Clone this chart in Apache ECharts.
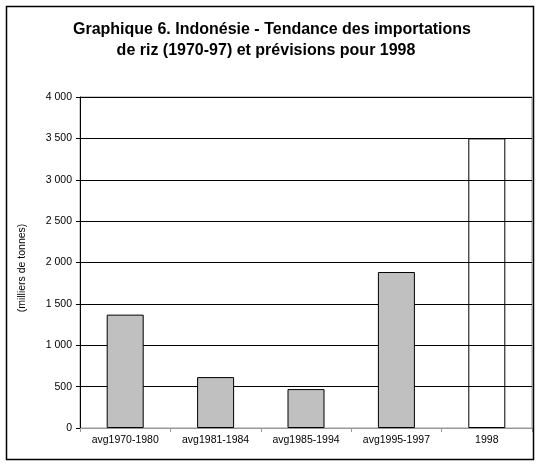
<!DOCTYPE html>
<html>
<head>
<meta charset="utf-8">
<script src="https://cdn.jsdelivr.net/npm/echarts@6/dist/echarts.min.js"></script>
<style>
html,body{margin:0;padding:0;background:#fff;}
#c{width:541px;height:467px;}
</style>
</head>
<body>
<div id="c"></div>
<script>
var categories = ['avg1970-1980', 'avg1981-1984', 'avg1985-1994', 'avg1995-1997', '1998'];
var imports = [1370, 615, 470, 1885, 3500];
var yTicks = [0, 500, 1000, 1500, 2000, 2500, 3000, 3500, 4000];
var titleLines = ['Graphique 6. Indonésie - Tendance des importations', 'de riz (1970-97) et prévisions pour 1998'];
var yAxisName = '(milliers de tonnes)';

var chart = echarts.init(document.getElementById('c'), null, {renderer: 'canvas'});
var FONT = 'Arial, "Liberation Sans", sans-serif';
var SMALL = 10.5;
var last = imports.length - 1;

function fmt(v) {
  return String(v).replace(/\B(?=(\d{3})+(?!\d))/g, ' ');
}

var histData = imports.map(function (v, i) { return i === last ? '-' : v; });
var forecastData = imports.map(function (v, i) { return i === last ? v : '-'; });

var option = {
  backgroundColor: '#fff',
  animation: false,
  title: [{
    text: titleLines[0],
    left: 267, top: 17, textAlign: 'center',
    textStyle: {fontFamily: FONT, fontSize: 16, fontWeight: 'bold', color: '#000'}
  }, {
    text: titleLines[1],
    left: 261, top: 38, textAlign: 'center',
    textStyle: {fontFamily: FONT, fontSize: 16, fontWeight: 'bold', color: '#000'}
  }],
  graphic: [{
    type: 'rect',
    shape: {x: 6.5, y: 6.5, width: 527, height: 453},
    style: {fill: 'none', stroke: '#000', lineWidth: 1.5},
    silent: true, z: 100
  }, {
    type: 'text',
    x: 22, y: 268,
    rotation: Math.PI / 2,
    style: {text: yAxisName, fontFamily: FONT, fontSize: SMALL, fill: '#000',
      align: 'center', verticalAlign: 'middle'}
  }],
  grid: {left: 80, right: 9, top: 97, bottom: 39, containLabel: false,
    show: true, borderColor: '#999', borderWidth: 1, backgroundColor: 'transparent'},
  xAxis: {
    type: 'category',
    data: categories,
    z: 1,
    axisLine: {show: true, lineStyle: {color: '#999', width: 1}},
    axisTick: {show: true, length: 4, lineStyle: {color: '#999'}},
    axisLabel: {fontFamily: FONT, fontSize: SMALL, color: '#000', margin: 7},
    splitLine: {show: false}
  },
  yAxis: {
    type: 'value',
    z: 1,
    min: yTicks[0], max: yTicks[yTicks.length - 1], interval: yTicks[1] - yTicks[0],
    axisLine: {show: true, lineStyle: {color: '#000', width: 1}},
    axisTick: {show: true, length: 4, lineStyle: {color: '#000'}},
    axisLabel: {fontFamily: FONT, fontSize: SMALL, color: '#000', margin: 8,
      formatter: function (v) { return fmt(v); }},
    splitLine: {show: true, lineStyle: {color: '#000', width: 1}}
  },
  series: [{
    type: 'bar',
    data: histData,
    barWidth: 37,
    barGap: '-100%',
    itemStyle: {color: '#c0c0c0', borderColor: '#000', borderWidth: 1},
    z: 6
  }, {
    type: 'bar',
    data: forecastData,
    barWidth: 37,
    barGap: '-100%',
    itemStyle: {color: 'none', borderColor: '#000', borderWidth: 1},
    z: 2
  }]
};
chart.setOption(option);
</script>
</body>
</html>
